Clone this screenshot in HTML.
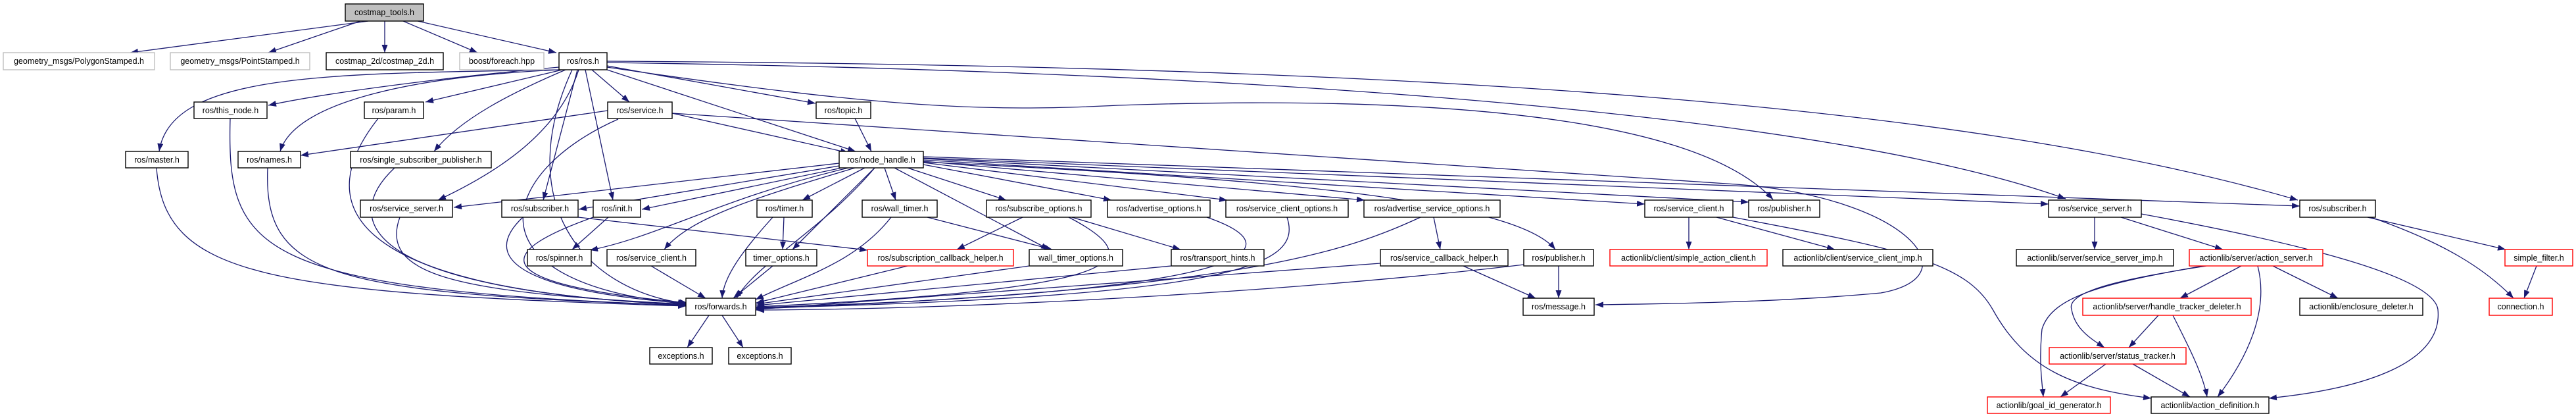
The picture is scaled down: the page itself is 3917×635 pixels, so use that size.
<!DOCTYPE html>
<html><head><meta charset="utf-8"><style>
html,body{margin:0;padding:0;background:#fff;}
svg{display:block}
text{font-family:"Liberation Sans",sans-serif;font-size:12.5px;fill:#000;text-anchor:middle}
.e{fill:none;stroke:#191970;stroke-width:1.3}
rect{fill:#fff;stroke:#000;stroke-width:1.4}
.g{stroke:#bfbfbf}
.r{stroke:#ff0000}
</style></head><body>
<svg width="3917" height="635" viewBox="0 0 3917 635" xmlns="http://www.w3.org/2000/svg">
<defs><marker id="a" markerUnits="userSpaceOnUse" markerWidth="12" markerHeight="9" refX="12" refY="4.5" orient="auto"><path d="M0,0 L12,4.5 L0,9 z" fill="#191970"/></marker></defs>
<g class="edges" marker-end="url(#a)">
<path class="e" d="M560,32 L198,80"/>
<path class="e" d="M548,32 L408,80"/>
<path class="e" d="M585,32 L585,80"/>
<path class="e" d="M613,32 L726,80"/>
<path class="e" d="M635,32 L846,80"/>
<path class="e" d="M850,102 C700,115 500,140 408,160"/>
<path class="e" d="M855,106 L647,155"/>
<path class="e" d="M850,106 C500,112 260,110 242,230"/>
<path class="e" d="M850,106 C650,115 450,150 426,230"/>
<path class="e" d="M860,106 C780,140 700,180 660,230"/>
<path class="e" d="M900,106 L957,155"/>
<path class="e" d="M923,100 L1240,157"/>
<path class="e" d="M923,106 L1301,230"/>
<path class="e" d="M880,106 C850,200 760,260 666,304"/>
<path class="e" d="M878,106 L826,304"/>
<path class="e" d="M890,106 L932,304"/>
<path class="e" d="M870,106 C780,300 880,440 1043,461"/>
<path class="e" d="M923,102 C1350,165 1500,170 1700,160 C2300,140 2600,200 2696,303"/>
<path class="e" d="M923,95 C2000,110 2800,180 3141,302"/>
<path class="e" d="M923,93 C2200,100 3000,160 3494,304"/>
<path class="e" d="M924,168 L457,236"/>
<path class="e" d="M1022,172 L1290,232"/>
<path class="e" d="M940,181 C760,260 700,430 1045,462"/>
<path class="e" d="M1022,172 L2640,280 C2900,300 3000,420 2860,445 C2700,460 2500,462 2426,463"/>
<path class="e" d="M1300,180 L1325,230"/>
<path class="e" d="M1276,248 L690,315"/>
<path class="e" d="M1276,252 L880,318"/>
<path class="e" d="M1280,255 L976,318"/>
<path class="e" d="M1290,255 C1100,300 1000,360 897,380"/>
<path class="e" d="M1300,255 C1150,300 1050,330 1010,379"/>
<path class="e" d="M1315,255 L1220,304"/>
<path class="e" d="M1330,255 L1205,379"/>
<path class="e" d="M1345,255 L1362,304"/>
<path class="e" d="M1360,255 L1595,379"/>
<path class="e" d="M1380,255 L1530,304"/>
<path class="e" d="M1404,250 L1690,304"/>
<path class="e" d="M1404,247 L1866,304"/>
<path class="e" d="M1404,245 L2075,304"/>
<path class="e" d="M1404,243 L2501,310"/>
<path class="e" d="M1404,241 L2659,307"/>
<path class="e" d="M1404,246 C1900,270 2300,300 2365,379"/>
<path class="e" d="M1404,240 L3115,310"/>
<path class="e" d="M1404,238 L3497,313"/>
<path class="e" d="M879,330 L1319,380"/>
<path class="e" d="M1330,255 C1250,350 1150,400 1120,453"/>
<path class="e" d="M350,180 C345,380 380,440 1043,464"/>
<path class="e" d="M575,180 C480,300 500,440 1043,463"/>
<path class="e" d="M238,255 C250,420 400,445 1043,465"/>
<path class="e" d="M407,255 C400,420 500,445 1043,464"/>
<path class="e" d="M600,255 C520,330 540,440 1043,463"/>
<path class="e" d="M608,330 C575,420 700,445 1043,462"/>
<path class="e" d="M795,330 C700,420 900,450 1045,461"/>
<path class="e" d="M905,329 C760,380 720,430 1045,460"/>
<path class="e" d="M990,404 L1073,453"/>
<path class="e" d="M1175,330 C1130,380 1100,420 1098,453"/>
<path class="e" d="M1175,404 L1115,453"/>
<path class="e" d="M1355,330 C1300,400 1220,420 1149,455"/>
<path class="e" d="M1380,404 L1150,460"/>
<path class="e" d="M1565,404 L1150,462"/>
<path class="e" d="M1781,404 L1150,464"/>
<path class="e" d="M1625,330 C1760,400 1700,440 1150,466"/>
<path class="e" d="M1835,330 C1980,380 1900,445 1150,467"/>
<path class="e" d="M1957,330 C1980,400 1900,450 1150,468"/>
<path class="e" d="M2160,330 C2050,380 1900,440 1150,469"/>
<path class="e" d="M2099,400 L1150,470"/>
<path class="e" d="M2317,402 C2000,440 1500,470 1150,471"/>
<path class="e" d="M925,330 L870,379"/>
<path class="e" d="M1192,330 L1190,379"/>
<path class="e" d="M1410,330 L1600,379"/>
<path class="e" d="M1555,330 L1455,379"/>
<path class="e" d="M1630,330 L1795,379"/>
<path class="e" d="M2180,330 L2190,379"/>
<path class="e" d="M2225,404 L2335,453"/>
<path class="e" d="M2370,404 L2370,453"/>
<path class="e" d="M2568,330 L2568,379"/>
<path class="e" d="M2610,330 L2790,379"/>
<path class="e" d="M2635,330 C2900,380 2990,400 3030,470 C3080,560 3150,590 3271,605"/>
<path class="e" d="M3185,330 L3185,379"/>
<path class="e" d="M3225,330 L3380,379"/>
<path class="e" d="M3256,325 C3500,370 3700,420 3707,470 C3715,550 3600,590 3450,605"/>
<path class="e" d="M3600,330 L3810,379"/>
<path class="e" d="M3605,330 C3720,370 3780,410 3822,453"/>
<path class="e" d="M3857,404 L3838,453"/>
<path class="e" d="M3408,404 L3315,453"/>
<path class="e" d="M3456,404 L3555,453"/>
<path class="e" d="M3355,404 C3250,420 3140,440 3150,470 C3155,500 3180,515 3200,528"/>
<path class="e" d="M3350,404 C3200,430 3120,450 3105,500 C3100,550 3105,580 3107,603"/>
<path class="e" d="M3433,404 C3450,470 3420,540 3372,603"/>
<path class="e" d="M3282,479 L3237,528"/>
<path class="e" d="M3304,479 C3330,530 3350,570 3356,603"/>
<path class="e" d="M3202,553 L3133,603"/>
<path class="e" d="M3243,553 L3330,603"/>
<path class="e" d="M1078,479 L1045,528"/>
<path class="e" d="M1098,479 L1130,528"/>
</g>
<g>
<rect x="525" y="6" width="119" height="26" style="fill:#bfbfbf"/><text x="584.5" y="23">costmap_tools.h</text>
<rect class="g" x="5" y="80" width="230" height="26"/><text x="120" y="97">geometry_msgs/PolygonStamped.h</text>
<rect class="g" x="259" y="80" width="212" height="26"/><text x="365" y="97">geometry_msgs/PointStamped.h</text>
<rect x="496" y="80" width="178" height="26"/><text x="585" y="97">costmap_2d/costmap_2d.h</text>
<rect class="g" x="699" y="80" width="128" height="26"/><text x="763" y="97">boost/foreach.hpp</text>
<rect x="850" y="80" width="73" height="26"/><text x="886.5" y="97">ros/ros.h</text>

<rect x="295" y="155" width="111" height="25"/><text x="350.5" y="172">ros/this_node.h</text>
<rect x="554" y="155" width="90" height="25"/><text x="599" y="172">ros/param.h</text>
<rect x="924" y="155" width="98" height="25"/><text x="973" y="172">ros/service.h</text>
<rect x="1241" y="155" width="83" height="25"/><text x="1282.5" y="172">ros/topic.h</text>

<rect x="191" y="230" width="95" height="25"/><text x="238.5" y="247">ros/master.h</text>
<rect x="362" y="230" width="95" height="25"/><text x="409.5" y="247">ros/names.h</text>
<rect x="533" y="230" width="214" height="25"/><text x="640" y="247">ros/single_subscriber_publisher.h</text>
<rect x="1276" y="230" width="128" height="25"/><text x="1340" y="247">ros/node_handle.h</text>

<rect x="548" y="304" width="140" height="26"/><text x="618" y="321">ros/service_server.h</text>
<rect x="763" y="304" width="116" height="26"/><text x="821" y="321">ros/subscriber.h</text>
<rect x="902" y="304" width="72" height="26"/><text x="938" y="321">ros/init.h</text>
<rect x="1151" y="304" width="84" height="26"/><text x="1193" y="321">ros/timer.h</text>
<rect x="1311" y="304" width="114" height="26"/><text x="1368" y="321">ros/wall_timer.h</text>
<rect x="1500" y="304" width="159" height="26"/><text x="1579.5" y="321">ros/subscribe_options.h</text>
<rect x="1684" y="304" width="156" height="26"/><text x="1762" y="321">ros/advertise_options.h</text>
<rect x="1864" y="304" width="186" height="26"/><text x="1957" y="321">ros/service_client_options.h</text>
<rect x="2074" y="304" width="207" height="26"/><text x="2177.5" y="321">ros/advertise_service_options.h</text>
<rect x="2501" y="304" width="134" height="26"/><text x="2568" y="321">ros/service_client.h</text>
<rect x="2659" y="304" width="108" height="26"/><text x="2713" y="321">ros/publisher.h</text>
<rect x="3115" y="304" width="141" height="26"/><text x="3185.5" y="321">ros/service_server.h</text>
<rect x="3497" y="304" width="115" height="26"/><text x="3554.5" y="321">ros/subscriber.h</text>

<rect x="802" y="379" width="97" height="25"/><text x="850.5" y="396">ros/spinner.h</text>
<rect x="923" y="379" width="135" height="25"/><text x="990.5" y="396">ros/service_client.h</text>
<rect x="1134" y="379" width="108" height="25"/><text x="1188" y="396">timer_options.h</text>
<rect class="r" x="1319" y="379" width="222" height="25"/><text x="1430" y="396">ros/subscription_callback_helper.h</text>
<rect x="1565" y="379" width="142" height="25"/><text x="1636" y="396">wall_timer_options.h</text>
<rect x="1781" y="379" width="141" height="25"/><text x="1851.5" y="396">ros/transport_hints.h</text>
<rect x="2099" y="379" width="194" height="25"/><text x="2196" y="396">ros/service_callback_helper.h</text>
<rect x="2317" y="379" width="106" height="25"/><text x="2370" y="396">ros/publisher.h</text>
<rect class="r" x="2448" y="379" width="239" height="25"/><text x="2567.5" y="396">actionlib/client/simple_action_client.h</text>
<rect x="2711" y="379" width="228" height="25"/><text x="2825" y="396">actionlib/client/service_client_imp.h</text>
<rect x="3066" y="379" width="239" height="25"/><text x="3185.5" y="396">actionlib/server/service_server_imp.h</text>
<rect class="r" x="3329" y="379" width="203" height="25"/><text x="3430.5" y="396">actionlib/server/action_server.h</text>
<rect class="r" x="3809" y="379" width="103" height="25"/><text x="3860.5" y="396">simple_filter.h</text>

<rect x="1043" y="453" width="106" height="26"/><text x="1096" y="470">ros/forwards.h</text>
<rect x="2316" y="453" width="108" height="26"/><text x="2370" y="470">ros/message.h</text>
<rect class="r" x="3167" y="453" width="256" height="26"/><text x="3295" y="470">actionlib/server/handle_tracker_deleter.h</text>
<rect x="3497" y="453" width="187" height="26"/><text x="3590.5" y="470">actionlib/enclosure_deleter.h</text>
<rect class="r" x="3785" y="453" width="96" height="26"/><text x="3833" y="470">connection.h</text>

<rect x="988" y="528" width="95" height="25"/><text x="1035.5" y="545">exceptions.h</text>
<rect x="1108" y="528" width="95" height="25"/><text x="1155.5" y="545">exceptions.h</text>
<rect class="r" x="3116" y="528" width="208" height="25"/><text x="3220" y="545">actionlib/server/status_tracker.h</text>

<rect class="r" x="3022" y="603" width="187" height="25"/><text x="3115.5" y="620">actionlib/goal_id_generator.h</text>
<rect x="3271" y="603" width="179" height="25"/><text x="3360.5" y="620">actionlib/action_definition.h</text>
</g>
</svg>
</body></html>
